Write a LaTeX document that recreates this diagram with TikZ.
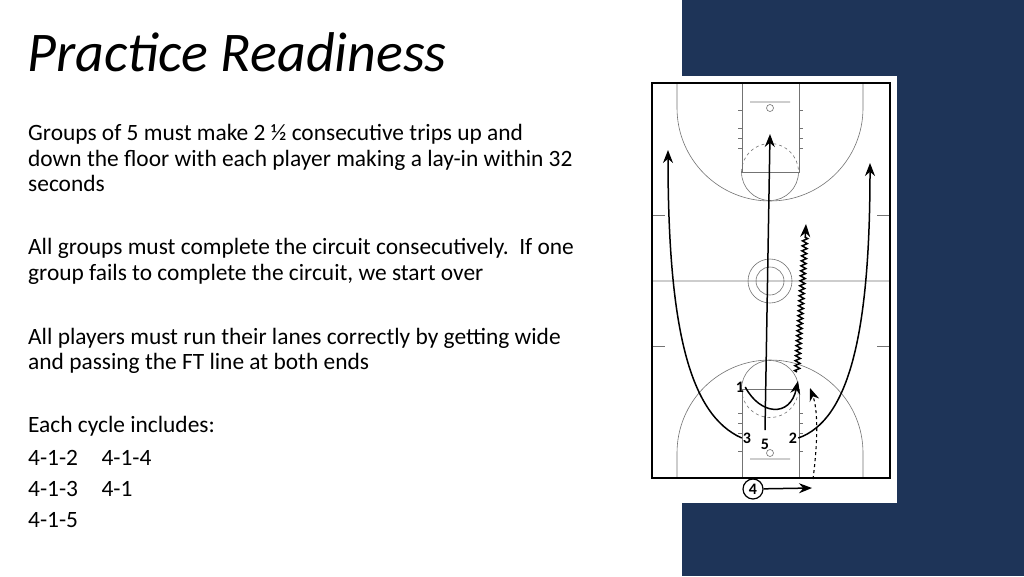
\documentclass[tikz,border=0pt]{standalone}
\usepackage{fontspec}
\setmainfont{Carlito}
\usetikzlibrary{arrows.meta,decorations.pathmorphing}
\definecolor{slideblue}{RGB}{30,52,88}

\begin{document}
\begin{tikzpicture}[x=1pt,y=-1pt,>={Stealth[length=13pt,width=10pt]}]
        \tikzset{body/.style={anchor=base west,font=\fontsize{23.4}{26}\selectfont,inner sep=0pt},
        court/.style={draw=black!55,line width=0.6pt},
        run/.style={draw,line width=1.5pt,->},
        player/.style={font=\bfseries\fontsize{16}{16}\selectfont,inner sep=1pt},
        }
        \useasboundingbox (0,0) rectangle (1024,576);
        \fill[slideblue] (682,0) rectangle (1024,576);
        \fill[white] (645,76) rectangle (897,503);
        \node[anchor=base west,inner sep=0pt,font=\itshape\fontsize{56}{56}\selectfont] (title) at (27,71) {Practice Readiness};
        \node[body] (l1) at (28,140) {Groups of 5 must make 2 ½ consecutive trips up and};
        \node[body] (l2) at (28,166) {down the floor with each player making a lay-in within 32};
        \node[body] (l3) at (28,191) {seconds};
        \node[body] (l4) at (28,254) {All groups must complete the circuit consecutively.\ \ If one};
        \node[body] (l5) at (28,280) {group fails to complete the circuit, we start over};
        \node[body] (l6) at (28,344) {All players must run their lanes correctly by getting wide};
        \node[body] (l7) at (28,369) {and passing the FT line at both ends};
        \node[body] (l8) at (28,432) {Each cycle includes:};
        \node[body] (l9) at (28,465) {4-1-2\quad 4-1-4};
        \node[body] (l10) at (28,496) {4-1-3\quad 4-1};
        \node[body] (l11) at (28,527) {4-1-5};

%% court
        \draw[court] (652,281) -- (890,281) (770,281) circle (22) (770,281) circle (14);
        \draw[court] (652,215) -- (665,215) (877,215) -- (890,215) (652,346) -- (665,346) (877,346) -- (890,346);
        \foreach \by/\s in {83/1,478/-1}{
          \draw[court] (742,\by) -- (742,{\by+89*\s}) -- (799,{\by+89*\s}) -- (799,\by);
          \draw[court] (677,\by) -- (677,{\by+25*\s}) arc[start angle=180,end angle={180-180*\s},radius=93] -- (863,\by);
          \draw[court] (770,{\by+25*\s}) circle (3.5) (750,{\by+19*\s}) -- (790,{\by+19*\s});
          \draw[court] (741.5,{\by+89*\s}) arc[start angle=180,end angle={180-180*\s},radius=28.5];
          \draw[court,dashed] (741.5,{\by+89*\s}) arc[start angle=180,end angle={180+180*\s},radius=28.5];
          \foreach \h in {27,45,55,65}{\draw[court] (738,{\by+\h*\s}) -- (742,{\by+\h*\s}) (799,{\by+\h*\s}) -- (803,{\by+\h*\s});}
        }
        \draw[line width=2.2pt] (652,83) rectangle (890,478);

%% players
        \node[player] (p1) at (740,387) {1};
        \node[player] (p2) at (793,438) {2};
        \node[player] (p3) at (747,438) {3};
        \node[player] (p5) at (765,444) {5};
        \node[player,draw,circle,line width=1.2pt,minimum size=20pt,inner sep=0pt] (p4) at (753,489) {4};
        \coordinate (t5) at (770,134);
        \coordinate (t3) at (668,150);
        \coordinate (t2) at (870,163);
        \coordinate (t1) at (798,381);
        \coordinate (tz) at (806,224);
        \coordinate (zs) at (797,372);
        \coordinate (t4) at (812,488);
        \coordinate (tw) at (810,388);

%% paths
        \draw[run] (765,430) -- (t5);
        \draw[run] (p3.west) .. controls (690,415) and (668,330) .. (t3);
        \draw[run] (p2.east) .. controls (850,420) and (870,330) .. (t2);
        \draw[run] (p1.east) .. controls (760,415) and (790,418) .. (t1);
        \draw[run,decorate,decoration={zigzag,segment length=5pt,amplitude=2.5pt,post length=12pt}] (zs) -- (tz);
        \draw[run,dashed,line width=1.1pt] (813,479) .. controls (818,440) and (818,410) .. (tw);
        \draw[run] (p4) -- (t4);
\end{tikzpicture}
\end{document}
